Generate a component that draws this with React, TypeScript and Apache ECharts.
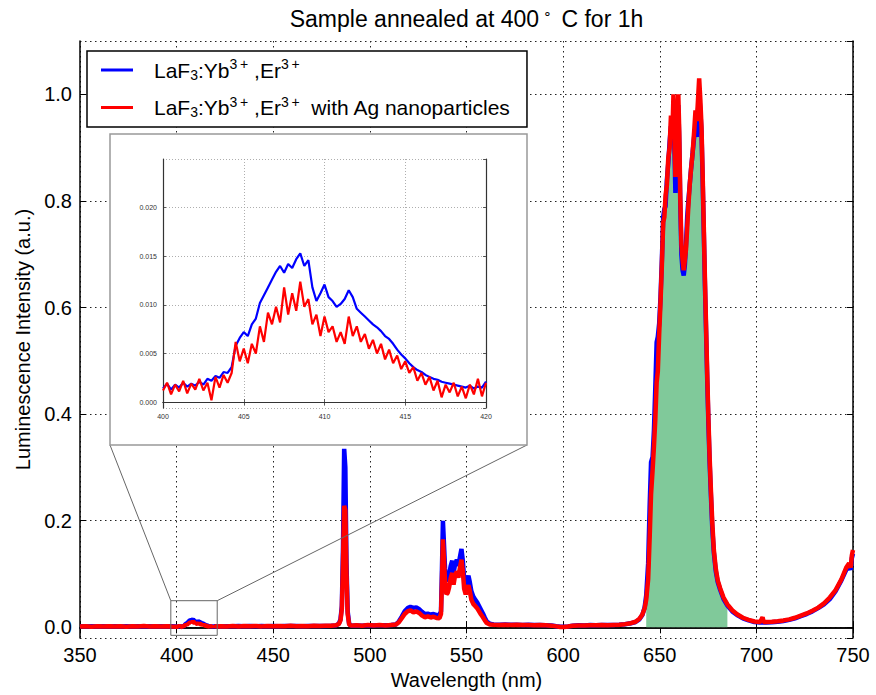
import React, { useEffect, useRef } from "react";
import * as echarts from "echarts";

const FONT = "'Liberation Sans', Arial, Helvetica, sans-serif";

const TITLE_MAIN = "Sample annealed at 400";
const TITLE_DEG = "∘";
const TITLE_END = " C for 1h";
const X_NAME = "Wavelength (nm)";
const Y_NAME = "Luminescence Intensity (a.u.)";
const BARE_NAME = "LaF3:Yb3+,Er3+";
const AG_NAME = "LaF3:Yb3+,Er3+ with Ag nanoparticles";

const MAIN_X = { min: 350, max: 750, interval: 50 };
const MAIN_Y = { min: -0.02, max: 1.1 };
const INSET_X = { min: 400, max: 420, interval: 5 };
const INSET_Y = { min: -0.0006, max: 0.025 };
const ZOOM_BOX = [397, -0.015, 421, 0.05];
const FILL_RANGE = [643, 686];

// LaF3:Yb,Er (blue)
const bareLow: [number, number][] = [
  [350, 0.002], [353, 0.0016], [356, 0.0021], [359, 0.0017], [362, 0.0019], [365, 0.0015], [368, 0.002],
  [371, 0.0017], [374, 0.0022], [377, 0.0016], [380, 0.0019], [383, 0.0017], [386, 0.0021], [389, 0.0016],
  [392, 0.002], [395, 0.0017], [397.5, 0.0019],
];
const bareInset: [number, number][] = [
  [400, 0.0014], [400.25, 0.0019], [400.5, 0.0013], [400.75, 0.0018], [401, 0.0015], [401.25, 0.002],
  [401.5, 0.0016], [401.75, 0.0019], [402, 0.0017], [402.25, 0.0021], [402.5, 0.0018], [402.75, 0.0024],
  [403, 0.0022], [403.25, 0.0027], [403.5, 0.0025], [403.75, 0.0031], [404, 0.003], [404.25, 0.0036],
  [404.5, 0.0058], [404.75, 0.0066], [405, 0.0072], [405.25, 0.0068], [405.5, 0.008], [405.75, 0.0086],
  [406, 0.0102], [406.25, 0.011], [406.5, 0.0118], [406.75, 0.0126], [407, 0.0134], [407.25, 0.014],
  [407.5, 0.0133], [407.75, 0.0142], [408, 0.0138], [408.25, 0.0147], [408.5, 0.0153], [408.75, 0.014],
  [409, 0.0146], [409.25, 0.0118], [409.5, 0.0104], [409.75, 0.0112], [410, 0.0121], [410.25, 0.0108],
  [410.5, 0.0104], [410.75, 0.0098], [411, 0.0101], [411.25, 0.0106], [411.5, 0.0115], [411.75, 0.0108],
  [412, 0.0096], [412.25, 0.0092], [412.5, 0.0088], [412.75, 0.0084], [413, 0.008], [413.25, 0.0077],
  [413.5, 0.0073], [413.75, 0.0068], [414, 0.0065], [414.25, 0.006], [414.5, 0.0054], [414.75, 0.0049],
  [415, 0.0045], [415.25, 0.004], [415.5, 0.0036], [415.75, 0.0033], [416, 0.0031], [416.25, 0.0028],
  [416.5, 0.0026], [416.75, 0.0024], [417, 0.0023], [417.25, 0.0021], [417.5, 0.002], [417.75, 0.0019],
  [418, 0.0018], [418.25, 0.0017], [418.5, 0.0016], [418.75, 0.0015], [419, 0.0017], [419.25, 0.0014],
  [419.5, 0.0016], [419.75, 0.0015], [420, 0.0021],
];
const bareHigh: [number, number][] = [
  [421, 0.0019], [423, 0.0018], [426, 0.0021], [429, 0.0019], [432, 0.0023], [435, 0.0021], [438, 0.0024],
  [441, 0.002], [444, 0.0023], [447, 0.0022], [450, 0.0025], [453, 0.0022], [456, 0.0026], [459, 0.0023],
  [462, 0.0025], [465, 0.0022], [468, 0.0026], [471, 0.0024], [474, 0.0027], [477, 0.0025], [480, 0.003],
  [482.5, 0.0036], [484, 0.007], [484.8, 0.015], [485.5, 0.04], [486.1, 0.15], [486.7, 0.335], [487.3, 0.3],
  [487.9, 0.12], [488.5, 0.03], [489.3, 0.006], [490.5, 0.003], [493, 0.0035], [496, 0.0032], [499, 0.0038],
  [502, 0.0034], [505, 0.004], [508, 0.0037], [511, 0.0042], [513.5, 0.0055], [515, 0.011], [516.5, 0.02],
  [518, 0.03], [519.5, 0.036], [521, 0.0385], [522.5, 0.0365], [524, 0.0375], [525.5, 0.034], [527, 0.029],
  [528.5, 0.025], [530, 0.0255], [531.5, 0.024], [533, 0.025], [534.5, 0.023], [536, 0.0225], [536.8, 0.03],
  [537.3, 0.11], [537.8, 0.2], [538.3, 0.16], [538.9, 0.11], [539.6, 0.088], [540.3, 0.09], [541, 0.098],
  [541.8, 0.115], [542.6, 0.125], [543.3, 0.102], [544.1, 0.118], [545, 0.127], [545.8, 0.115], [546.6, 0.132],
  [547.4, 0.147], [548.1, 0.125], [548.8, 0.09], [549.6, 0.078], [550.4, 0.09], [551, 0.097], [551.7, 0.085],
  [552.5, 0.068], [553.5, 0.058], [554.5, 0.052], [555.5, 0.047], [556.5, 0.04], [557.5, 0.033], [558.5, 0.026],
  [559.5, 0.018], [560.5, 0.011], [562, 0.007], [564, 0.0055], [567, 0.005], [570, 0.0052], [573, 0.0047],
  [576, 0.0049], [579, 0.0045], [582, 0.0047], [585, 0.0043], [588, 0.0044], [591, 0.004], [594, 0.0035],
  [596.5, 0.0022], [598.5, 0.0012], [600.5, 0.001], [602.5, 0.0018], [605, 0.003], [608, 0.0038], [611, 0.0036],
  [614, 0.0042], [617, 0.004], [620, 0.0045], [623, 0.0042], [626, 0.0046], [629, 0.005], [632, 0.0058],
  [635, 0.0075], [637.5, 0.01], [639.5, 0.015], [641, 0.023], [642.2, 0.038], [643, 0.06], [644, 0.12],
  [644.8, 0.23], [645.5, 0.31], [646.3, 0.32], [647, 0.37], [647.7, 0.45], [648.4, 0.535], [649, 0.545],
  [649.7, 0.57], [650.4, 0.62], [651.1, 0.69], [651.8, 0.77], [652.4, 0.785], [653, 0.79], [653.7, 0.84],
  [654.4, 0.87], [655.1, 0.91], [655.8, 0.94], [656.5, 0.92], [657.1, 0.97], [657.6, 0.9], [658.1, 0.815],
  [658.6, 0.86], [659.1, 0.93], [659.6, 0.98], [660.1, 0.91], [660.6, 0.8], [661.2, 0.7], [661.8, 0.67],
  [662.4, 0.66], [663, 0.68], [663.6, 0.72], [664.2, 0.77], [664.8, 0.8], [665.5, 0.83], [666.2, 0.86],
  [667, 0.89], [667.8, 0.92], [668.5, 0.94], [669.2, 0.92], [669.8, 0.97], [670.4, 1.0], [671, 0.97],
  [671.6, 0.93], [672.2, 0.84], [672.8, 0.74], [673.4, 0.64], [674, 0.55], [674.6, 0.46], [675.2, 0.38],
  [675.8, 0.31], [676.5, 0.245], [677.2, 0.185], [678, 0.14], [679, 0.105], [680, 0.085], [681.3, 0.07],
  [683, 0.053], [685, 0.041], [687.5, 0.03], [690, 0.023], [693, 0.017], [696, 0.013], [699, 0.01],
  [702, 0.009], [705, 0.009], [708, 0.0095], [711, 0.0105], [714, 0.012], [717, 0.014], [720, 0.017],
  [723, 0.021], [726, 0.025], [729, 0.03], [732, 0.036], [735, 0.043], [738, 0.053], [741, 0.068],
  [744, 0.088], [746.5, 0.108], [748, 0.115], [748.8, 0.108], [749.4, 0.13], [750, 0.138],
];

// LaF3:Yb,Er with Ag nanoparticles (red)
const agLow: [number, number][] = [
  [350, 0.0016], [353, 0.0021], [356, 0.0013], [359, 0.002], [362, 0.0014], [365, 0.0021], [368, 0.0015],
  [371, 0.0022], [374, 0.0013], [377, 0.002], [380, 0.0016], [383, 0.0023], [386, 0.0014], [389, 0.0021],
  [392, 0.0015], [395, 0.0022], [397.5, 0.0014],
];
const agInset: [number, number][] = [
  [400, 0.0012], [400.25, 0.002], [400.5, 0.0008], [400.75, 0.0018], [401, 0.0011], [401.25, 0.0022],
  [401.5, 0.0009], [401.75, 0.0019], [402, 0.0013], [402.25, 0.0024], [402.5, 0.0012], [402.75, 0.002],
  [403, 0.0002], [403.25, 0.0026], [403.5, 0.0015], [403.75, 0.0028], [404, 0.002], [404.25, 0.003],
  [404.5, 0.0062], [404.75, 0.0042], [405, 0.0055], [405.25, 0.004], [405.5, 0.006], [405.75, 0.005],
  [406, 0.0078], [406.25, 0.0062], [406.5, 0.0092], [406.75, 0.008], [407, 0.0098], [407.25, 0.0082],
  [407.5, 0.0118], [407.75, 0.009], [408, 0.0112], [408.25, 0.0094], [408.5, 0.0124], [408.75, 0.0098],
  [409, 0.0106], [409.25, 0.008], [409.5, 0.009], [409.75, 0.0068], [410, 0.0088], [410.25, 0.0072],
  [410.5, 0.0078], [410.75, 0.0062], [411, 0.0072], [411.25, 0.006], [411.5, 0.0088], [411.75, 0.0068],
  [412, 0.0078], [412.25, 0.0062], [412.5, 0.007], [412.75, 0.0055], [413, 0.0064], [413.25, 0.005],
  [413.5, 0.006], [413.75, 0.0044], [414, 0.0054], [414.25, 0.004], [414.5, 0.0048], [414.75, 0.0034],
  [415, 0.0042], [415.25, 0.003], [415.5, 0.0036], [415.75, 0.0022], [416, 0.003], [416.25, 0.0018],
  [416.5, 0.0026], [416.75, 0.0012], [417, 0.0022], [417.25, 0.0005], [417.5, 0.0018], [417.75, 0.001],
  [418, 0.002], [418.25, 0.0006], [418.5, 0.0016], [418.75, 0.0004], [419, 0.0018], [419.25, 0.0008],
  [419.5, 0.0024], [419.75, 0.0006], [420, 0.002],
];
const agHigh: [number, number][] = [
  [421, 0.0014], [423, 0.0022], [426, 0.0016], [429, 0.0024], [432, 0.0017], [435, 0.0026], [438, 0.0019],
  [441, 0.0025], [444, 0.0018], [447, 0.0026], [450, 0.002], [453, 0.0027], [456, 0.0021], [459, 0.0028],
  [462, 0.002], [465, 0.0027], [468, 0.0022], [471, 0.0029], [474, 0.0023], [477, 0.003], [480, 0.0028],
  [482.5, 0.0038], [484, 0.0065], [484.8, 0.013], [485.5, 0.035], [486.1, 0.12], [486.7, 0.228], [487.3, 0.22],
  [487.9, 0.1], [488.5, 0.025], [489.3, 0.005], [490.5, 0.0032], [493, 0.004], [496, 0.003], [499, 0.0042],
  [502, 0.0033], [505, 0.0043], [508, 0.0036], [511, 0.0045], [513.5, 0.0052], [515, 0.0095], [516.5, 0.017],
  [518, 0.025], [519.5, 0.03], [521, 0.032], [522.5, 0.028], [524, 0.03], [525.5, 0.027], [527, 0.022],
  [528.5, 0.019], [530, 0.0205], [531.5, 0.0185], [533, 0.02], [534.5, 0.0175], [536, 0.017], [536.8, 0.025],
  [537.3, 0.085], [537.8, 0.165], [538.3, 0.13], [538.9, 0.085], [539.6, 0.062], [540.3, 0.065], [541, 0.075],
  [541.8, 0.092], [542.6, 0.102], [543.3, 0.08], [544.1, 0.098], [545, 0.105], [545.8, 0.093], [546.6, 0.112],
  [547.4, 0.127], [548.1, 0.105], [548.8, 0.072], [549.6, 0.062], [550.4, 0.072], [551, 0.079], [551.7, 0.068],
  [552.5, 0.052], [553.5, 0.044], [554.5, 0.04], [555.5, 0.036], [556.5, 0.03], [557.5, 0.024], [558.5, 0.019],
  [559.5, 0.013], [560.5, 0.008], [562, 0.0055], [564, 0.005], [567, 0.0045], [570, 0.005], [573, 0.0043],
  [576, 0.0048], [579, 0.0042], [582, 0.0046], [585, 0.004], [588, 0.0043], [591, 0.0038], [594, 0.0032],
  [596.5, 0.0018], [598.5, 0.0006], [600.5, 0.0005], [602.5, 0.0015], [605, 0.0028], [608, 0.0036], [611, 0.0033],
  [614, 0.004], [617, 0.0037], [620, 0.0044], [623, 0.004], [626, 0.0045], [629, 0.005], [632, 0.006],
  [635, 0.0078], [637.5, 0.0105], [639.5, 0.016], [641, 0.024], [642.2, 0.036], [643, 0.052], [644, 0.09],
  [644.8, 0.17], [645.5, 0.25], [646.3, 0.295], [647, 0.34], [647.7, 0.39], [648.4, 0.46], [649, 0.48],
  [649.7, 0.55], [650.4, 0.61], [651.1, 0.68], [651.8, 0.76], [652.4, 0.77], [653, 0.81], [653.7, 0.83],
  [654.4, 0.88], [655.1, 0.9], [655.8, 0.96], [656.5, 0.92], [657.1, 1.0], [657.6, 0.92], [658.1, 0.845],
  [658.6, 0.88], [659.1, 0.95], [659.6, 1.0], [660.1, 0.93], [660.6, 0.81], [661.2, 0.72], [661.8, 0.69],
  [662.4, 0.67], [663, 0.69], [663.6, 0.71], [664.2, 0.75], [664.8, 0.79], [665.5, 0.83], [666.2, 0.86],
  [667, 0.89], [667.8, 0.93], [668.5, 0.97], [669.2, 0.95], [669.8, 0.99], [670.4, 1.03], [671, 0.99],
  [671.6, 0.94], [672.2, 0.85], [672.8, 0.75], [673.4, 0.65], [674, 0.56], [674.6, 0.47], [675.2, 0.39],
  [675.8, 0.32], [676.5, 0.255], [677.2, 0.195], [678, 0.145], [679, 0.11], [680, 0.088], [681.3, 0.073],
  [683, 0.056], [685, 0.043], [687.5, 0.032], [690, 0.0245], [693, 0.018], [696, 0.014], [699, 0.011],
  [702, 0.01], [703.2, 0.019], [703.8, 0.01], [705, 0.01], [708, 0.0105], [711, 0.0115], [714, 0.013],
  [717, 0.015], [720, 0.018], [723, 0.022], [726, 0.026], [729, 0.031], [732, 0.037], [735, 0.045],
  [738, 0.056], [741, 0.07], [744, 0.09], [746.5, 0.112], [748, 0.12], [748.8, 0.112], [749.4, 0.135],
  [750, 0.145],
];

const bareSpectrum = [...bareLow, ...bareInset, ...bareHigh];
const agSpectrum = [...agLow, ...agInset, ...agHigh];

// layout (pixels)
const MAIN_GRID = { left: 80, top: 41, right: 23, bottom: 53 };
const INSET_GRID = { left: 163, top: 159, right: 390, bottom: 287 };
const FRAME = { x: 110, y: 134, w: 417, h: 311 };

const dotted = (color: string, w: number, dash: number[]) => ({
  show: true,
  lineStyle: { color, width: w, type: dash },
});

export default function App() {
  const ref = useRef<HTMLDivElement>(null);
  useEffect(() => {
    if (!ref.current) return;
    const chart = echarts.init(ref.current, undefined, { renderer: "svg" });
    const fillData = bareSpectrum.filter((p) => p[0] >= FILL_RANGE[0] && p[0] <= FILL_RANGE[1]);
    const insetBare = bareSpectrum.filter((p) => p[0] >= INSET_X.min && p[0] <= INSET_X.max);
    const insetAg = agSpectrum.filter((p) => p[0] >= INSET_X.min && p[0] <= INSET_X.max);

    const legendRich = {
      g: { width: 16, fontSize: 21, fontFamily: FONT },
      n: { fontSize: 21, fontFamily: FONT, color: "#000", lineHeight: 28 },
      sub: { fontSize: 14, fontFamily: FONT, color: "#000", padding: [9, 0, 0, 0] },
      sup: { fontSize: 14, fontFamily: FONT, color: "#000", padding: [0, 0, 12, 0] },
    };
    const formula = "{n|LaF}{sub|3}{n|:Yb}{sup|3\u2009+}{n| ,Er}{sup|3\u2009+}";

    const mainTick = { show: true, inside: true, length: 6, lineStyle: { color: "#000", width: 1 } };
    const mainLine = { show: true, lineStyle: { color: "#000", width: 1.5 } };
    const insetTick = { show: true, inside: true, length: 3, lineStyle: { color: "#333", width: 0.8 } };
    const insetLine = { show: true, lineStyle: { color: "#333", width: 1.2 } };
    const insetLabel = { fontSize: 7, color: "#333", fontFamily: FONT };

    chart.setOption({
      animation: false,
      backgroundColor: "#fff",
      graphic: [
        {
          type: "text",
          x: 466.5,
          y: 19,
          z: 10,
          style: {
            text: `{t|${TITLE_MAIN}}{d|${TITLE_DEG}}{t|${TITLE_END}}`,
            align: "center",
            verticalAlign: "middle",
            rich: {
              t: { fontSize: 23, fontFamily: FONT, fill: "#000", color: "#000" },
              d: { fontSize: 14, fontFamily: FONT, fill: "#000", color: "#000", padding: [0, 3, 13, 4] },
            },
          },
        },
        {
          type: "rect",
          z: 5,
          shape: { x: FRAME.x, y: FRAME.y, width: FRAME.w, height: FRAME.h },
          style: { fill: "#fff", stroke: "#999", lineWidth: 1.5 },
        },
      ],
      legend: {
        orient: "vertical",
        left: 87,
        top: 51,
        z: 6,
        backgroundColor: "#fff",
        borderColor: "#000",
        borderWidth: 1.5,
        borderRadius: 0,
        padding: [6, 16, 8, 14],
        itemWidth: 32,
        itemHeight: 3,
        itemGap: 13,
        icon: "rect",
        selectedMode: false,
        data: [BARE_NAME, AG_NAME],
        formatter: (name: string) =>
          name === BARE_NAME ? `{g| }${formula}` : `{g| }${formula}{n|  with Ag nanoparticles}`,
        textStyle: { fontSize: 21, fontFamily: FONT, color: "#000", rich: legendRich },
      },
      grid: [
        { ...MAIN_GRID, containLabel: false },
        { ...INSET_GRID, containLabel: false },
      ],
      xAxis: [
        {
          type: "value",
          gridIndex: 0,
          position: "bottom",
          ...MAIN_X,
          axisLine: mainLine,
          axisTick: mainTick,
          axisLabel: { fontSize: 20, color: "#000", fontFamily: FONT, margin: 7 },
          splitLine: dotted("#222", 1, [1.5, 3.5]),
          name: X_NAME,
          nameLocation: "middle",
          nameGap: 32,
          nameTextStyle: { fontSize: 20, color: "#000", fontFamily: FONT },
          z: 0,
        },
        {
          type: "value",
          gridIndex: 0,
          position: "top",
          ...MAIN_X,
          axisLine: mainLine,
          axisTick: mainTick,
          axisLabel: { show: false },
          splitLine: { show: false },
          z: 0,
        },
        {
          type: "value",
          gridIndex: 1,
          position: "bottom",
          ...INSET_X,
          axisLine: insetLine,
          axisTick: insetTick,
          axisLabel: { ...insetLabel, margin: 5 },
          splitLine: dotted("#999", 0.8, [1, 2]),
          z: 7,
        },
        {
          type: "value",
          gridIndex: 1,
          position: "top",
          ...INSET_X,
          axisLine: insetLine,
          axisTick: insetTick,
          axisLabel: { show: false },
          splitLine: { show: false },
          z: 7,
        },
      ],
      yAxis: [
        {
          type: "value",
          gridIndex: 0,
          position: "left",
          ...MAIN_Y,
          splitNumber: 5,
          axisLine: mainLine,
          axisTick: mainTick,
          axisLabel: {
            fontSize: 20,
            color: "#000",
            fontFamily: FONT,
            margin: 8,
            showMinLabel: false,
            showMaxLabel: false,
            formatter: (v: number) => (Math.abs(v) < 1e-9 ? "0.0" : v.toFixed(1)),
          },
          splitLine: dotted("#222", 1, [1.5, 3.5]),
          name: Y_NAME,
          nameLocation: "middle",
          nameGap: 47,
          nameTextStyle: { fontSize: 20, color: "#000", fontFamily: FONT },
          z: 0,
        },
        {
          type: "value",
          gridIndex: 0,
          position: "right",
          ...MAIN_Y,
          splitNumber: 5,
          axisLine: mainLine,
          axisTick: mainTick,
          axisLabel: { show: false },
          splitLine: { show: false },
          z: 0,
        },
        {
          type: "value",
          gridIndex: 1,
          position: "left",
          ...INSET_Y,
          splitNumber: 5,
          axisLine: insetLine,
          axisTick: insetTick,
          axisLabel: {
            ...insetLabel,
            margin: 6,
            showMinLabel: false,
            showMaxLabel: false,
            formatter: (v: number) => (Math.abs(v) < 1e-9 ? "0.000" : v.toFixed(3)),
          },
          splitLine: dotted("#999", 0.8, [1, 2]),
          z: 7,
        },
        {
          type: "value",
          gridIndex: 1,
          position: "right",
          ...INSET_Y,
          splitNumber: 5,
          axisLine: insetLine,
          axisTick: insetTick,
          axisLabel: { show: false },
          splitLine: { show: false },
          z: 7,
        },
      ],
      series: [
        {
          type: "line",
          name: "fill",
          xAxisIndex: 0,
          yAxisIndex: 0,
          data: fillData,
          symbol: "none",
          lineStyle: { width: 0, opacity: 0 },
          areaStyle: { color: "#80c99a", opacity: 1 },
          z: 1,
          silent: true,
        },
        {
          type: "line",
          name: BARE_NAME,
          xAxisIndex: 0,
          yAxisIndex: 0,
          data: bareSpectrum,
          symbol: "none",
          color: "#0000ff",
          lineStyle: { color: "#0000ff", width: 4.5 },
          z: 2,
        },
        {
          type: "line",
          name: AG_NAME,
          xAxisIndex: 0,
          yAxisIndex: 0,
          data: agSpectrum,
          symbol: "none",
          color: "#ff0000",
          lineStyle: { color: "#ff0000", width: 4.5 },
          z: 3,
        },
        {
          type: "custom",
          xAxisIndex: 0,
          yAxisIndex: 0,
          silent: true,
          clip: false,
          z: 4,
          encode: { x: [0, 2], y: [1, 3] },
          data: [ZOOM_BOX],
          renderItem: (_params: any, api: any) => {
            const tl = api.coord([api.value(0), api.value(3)]);
            const br = api.coord([api.value(2), api.value(1)]);
            const stroke = { stroke: "#666", lineWidth: 1, fill: "none" };
            return {
              type: "group",
              children: [
                {
                  type: "rect",
                  shape: { x: tl[0], y: tl[1], width: br[0] - tl[0], height: br[1] - tl[1] },
                  style: stroke,
                },
                {
                  type: "line",
                  shape: { x1: tl[0], y1: tl[1], x2: FRAME.x, y2: FRAME.y + FRAME.h },
                  style: stroke,
                },
                {
                  type: "line",
                  shape: { x1: br[0], y1: tl[1], x2: FRAME.x + FRAME.w, y2: FRAME.y + FRAME.h },
                  style: stroke,
                },
              ],
            };
          },
        },
        {
          type: "line",
          name: "inset-bare",
          xAxisIndex: 2,
          yAxisIndex: 2,
          data: insetBare,
          symbol: "none",
          lineStyle: { color: "#0000ff", width: 2.2 },
          z: 8,
        },
        {
          type: "line",
          name: "inset-ag",
          xAxisIndex: 2,
          yAxisIndex: 2,
          data: insetAg,
          symbol: "none",
          lineStyle: { color: "#ff0000", width: 2.2 },
          z: 9,
        },
      ],
    });
    return () => chart.dispose();
  }, []);
  return (
    <div
      ref={ref}
      style={{ position: "fixed", left: 0, top: 0, width: 876, height: 695, background: "#fff" }}
    />
  );
}
